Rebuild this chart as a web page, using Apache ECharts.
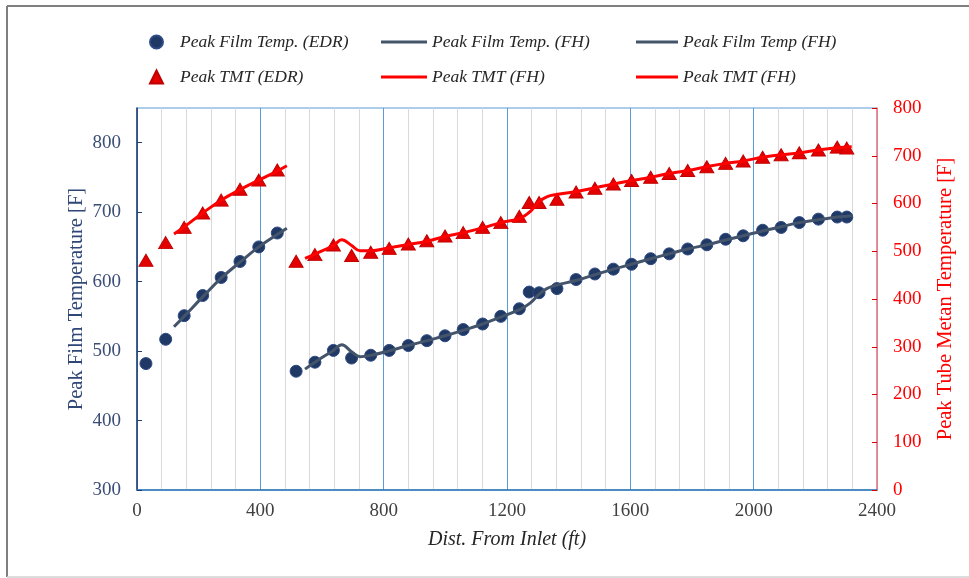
<!DOCTYPE html>
<html>
<head>
<meta charset="utf-8">
<script src="https://cdn.jsdelivr.net/npm/echarts@6/dist/echarts.min.js"></script>
<style>
html,body{margin:0;padding:0;background:#fff;}
#c{width:969px;height:578px;}
</style>
</head>
<body>
<div id="c"></div>
<script>
// EDR points: distance from inlet (ft)
var distEDR = [29, 93, 153, 213, 273, 334, 395, 455, 516, 577, 637, 696, 758, 818, 880, 940, 999, 1058, 1121, 1180, 1240, 1272, 1304, 1362, 1424, 1485, 1545, 1604, 1666, 1726, 1786, 1848, 1909, 1966, 2029, 2089, 2148, 2210, 2271, 2302];
var filmEDR = [482, 517, 551, 580, 606, 629, 650, 670, 471, 484, 501, 490, 494, 501, 508, 515, 522, 531, 539, 550, 561, 585, 584, 590, 603, 611, 618, 625, 633, 640, 647, 653, 661, 666, 674, 678, 685, 690, 693, 693];
var tmtEDR = [481, 518, 550, 580, 607, 630, 649, 670, 479, 493, 513, 491, 498, 506, 515, 522, 532, 539, 550, 560, 573, 602, 602, 609, 624, 632, 641, 648, 655, 663, 669, 677, 684, 689, 697, 702, 706, 712, 718, 716];

// FH model curves, section 1
var distFH1 = [120, 153, 213, 273, 334, 395, 455, 486];
var filmFH1 = [535, 550, 578, 605, 628, 650, 668, 677];
var tmtFH1 = [536, 551, 580, 607, 629, 649, 668, 679];

// FH model curves, section 2
var distFH2 = [545, 577, 637, 664, 696, 723, 759, 815, 880, 940, 999, 1058, 1121, 1180, 1242, 1275, 1302, 1329, 1361, 1426, 1485, 1545, 1604, 1666, 1726, 1786, 1848, 1909, 1966, 2029, 2089, 2148, 2210, 2271, 2318];
var filmFH2 = [474, 484, 501, 509, 499, 492, 494, 500, 508, 515, 522, 530, 539, 549, 560, 569, 581, 590, 595, 602, 610, 618, 625, 633, 640, 647, 653, 660, 666, 673, 679, 685, 689, 693, 695];
var tmtFH2 = [485, 494, 512, 524, 512, 501, 501, 507, 514, 521, 531, 539, 549, 560, 569, 583, 603, 614, 619, 625, 633, 641, 648, 655, 663, 669, 677, 684, 689, 697, 702, 706, 712, 717, 719];

// Tick labels
var leftTicks = [300, 400, 500, 600, 700, 800];

function pairs(xs, ys) {
  var out = [];
  for (var i = 0; i < xs.length; i++) out.push([xs[i], ys[i]]);
  return out;
}

var FONT = 'Liberation Serif';
var chart = echarts.init(document.getElementById('c'), null, {renderer: 'canvas'});

var legendText = {fontFamily: FONT, fontStyle: 'italic', fontSize: 17.5, color: '#262626', lineHeight: 20};

var option = {
  animation: false,
  backgroundColor: '#ffffff',
  graphic: [
    {type: 'line', shape: {x1: 7, y1: 6, x2: 7, y2: 577}, style: {stroke: '#7F7F7F', lineWidth: 2}},
    {type: 'line', shape: {x1: 7, y1: 6, x2: 969, y2: 6}, style: {stroke: '#7F7F7F', lineWidth: 2}},
    {type: 'line', shape: {x1: 7, y1: 577, x2: 969, y2: 577}, style: {stroke: '#D0D0D0', lineWidth: 1.5}}
  ],
  legend: [
    {
      left: 149, top: 32, orient: 'vertical', itemGap: 15, padding: 0,
      itemWidth: 13, itemHeight: 13,
      textStyle: Object.assign({}, legendText, {padding: [0, 0, 0, 12]}),
      data: [
        {name: 'Peak Film Temp. (EDR)', icon: 'circle'},
        {name: 'Peak TMT (EDR)', icon: 'triangle'}
      ],
      selectedMode: false
    },
    {
      left: 381, top: 32, orient: 'vertical', itemGap: 15, padding: 0,
      itemWidth: 46, itemHeight: 3,
      textStyle: legendText,
      data: [
        {name: 'Peak Film Temp. (FH)', icon: 'rect'},
        {name: 'Peak TMT (FH)', icon: 'rect'}
      ],
      selectedMode: false
    },
    {
      left: 636, top: 32, orient: 'vertical', itemGap: 15, padding: 0,
      itemWidth: 42, itemHeight: 3,
      textStyle: legendText,
      data: [
        {name: 'Peak Film Temp (FH)', icon: 'rect'},
        {name: 'Peak TMT (FH)', icon: 'rect'}
      ],
      selectedMode: false
    }
  ],
  grid: {
    left: 137, right: 92, top: 108, bottom: 88,
    show: true, borderColor: '#5B9BD5', borderWidth: 1
  },
  xAxis: {
    type: 'value', min: 0, max: 2400, interval: 400,
    name: 'Dist. From Inlet (ft)', nameLocation: 'middle', nameGap: 40,
    nameTextStyle: {fontFamily: FONT, fontStyle: 'italic', fontSize: 20, color: '#262626'},
    axisLine: {show: true, lineStyle: {color: '#2E75B6', width: 1.5}},
    axisTick: {show: false},
    minorTick: {show: false, splitNumber: 5},
    axisLabel: {fontFamily: FONT, fontSize: 19, color: '#404040', margin: 12,
      formatter: function (v) { return String(v); }},
    splitLine: {show: true, lineStyle: {color: '#5B9BD5', width: 1}},
    minorSplitLine: {show: true, lineStyle: {color: '#D9D9D9', width: 1}}
  },
  yAxis: [
    {
      type: 'value', min: 300, max: 850, interval: 100, position: 'left',
      name: 'Peak Film Temperature [F]', nameLocation: 'middle', nameGap: 50, nameRotate: 90,
      nameMoveOverlap: false,
      nameTextStyle: {fontFamily: FONT, fontSize: 20.5, color: '#2F4676'},
      axisLine: {show: true, lineStyle: {color: '#1F3A6E', width: 1.5}},
      axisTick: {show: true, inside: true, length: 5, lineStyle: {color: '#1F3A6E'}, customValues: leftTicks},
      axisLabel: {fontFamily: FONT, fontSize: 19, color: '#3B4E78', margin: 16, customValues: leftTicks,
        formatter: function (v) { return String(v); }},
      splitLine: {show: false}
    },
    {
      type: 'value', min: 0, max: 800, interval: 100, position: 'right',
      name: 'Peak Tube Metan Temperature [F]', nameLocation: 'middle', nameGap: 58, nameRotate: 90,
      nameTextStyle: {fontFamily: FONT, fontSize: 20.5, color: '#FF0000'},
      axisLine: {show: true, lineStyle: {color: '#FF7C80', width: 1.5}},
      axisTick: {show: true, inside: true, length: 5, lineStyle: {color: '#E00000'}},
      axisLabel: {fontFamily: FONT, fontSize: 19, color: '#FF0000', margin: 16},
      splitLine: {show: false}
    }
  ],
  series: [
    {
      name: 'Peak Film Temp. (EDR)', type: 'scatter', yAxisIndex: 0, z: 2,
      symbol: 'circle', symbolSize: 12,
      itemStyle: {color: '#1F3864', borderColor: '#2F4B85', borderWidth: 1, opacity: 1},
      data: pairs(distEDR, filmEDR)
    },
    {
      name: 'Peak TMT (EDR)', type: 'scatter', yAxisIndex: 1, z: 2,
      symbol: 'triangle', symbolSize: [14, 12],
      itemStyle: {color: '#E30000', borderColor: '#C00000', borderWidth: 1, opacity: 1},
      data: pairs(distEDR, tmtEDR)
    },
    {
      name: 'Peak Film Temp. (FH)', type: 'line', yAxisIndex: 0, z: 3,
      showSymbol: false, symbol: 'none', smooth: 0.4,
      lineStyle: {color: '#44546A', width: 3},
      itemStyle: {color: '#44546A'},
      data: pairs(distFH1, filmFH1)
    },
    {
      name: 'Peak TMT (FH)', type: 'line', yAxisIndex: 1, z: 3,
      showSymbol: false, symbol: 'none', smooth: 0.4,
      lineStyle: {color: '#FF0000', width: 3},
      itemStyle: {color: '#FF0000'},
      data: pairs(distFH1, tmtFH1)
    },
    {
      name: 'Peak Film Temp (FH)', type: 'line', yAxisIndex: 0, z: 3,
      showSymbol: false, symbol: 'none', smooth: 0.4,
      lineStyle: {color: '#44546A', width: 3},
      itemStyle: {color: '#44546A'},
      data: pairs(distFH2, filmFH2)
    },
    {
      name: 'Peak TMT (FH)', type: 'line', yAxisIndex: 1, z: 3,
      showSymbol: false, symbol: 'none', smooth: 0.4,
      lineStyle: {color: '#FF0000', width: 3},
      itemStyle: {color: '#FF0000'},
      data: pairs(distFH2, tmtFH2)
    }
  ]
};
chart.setOption(option);
</script>
</body>
</html>
